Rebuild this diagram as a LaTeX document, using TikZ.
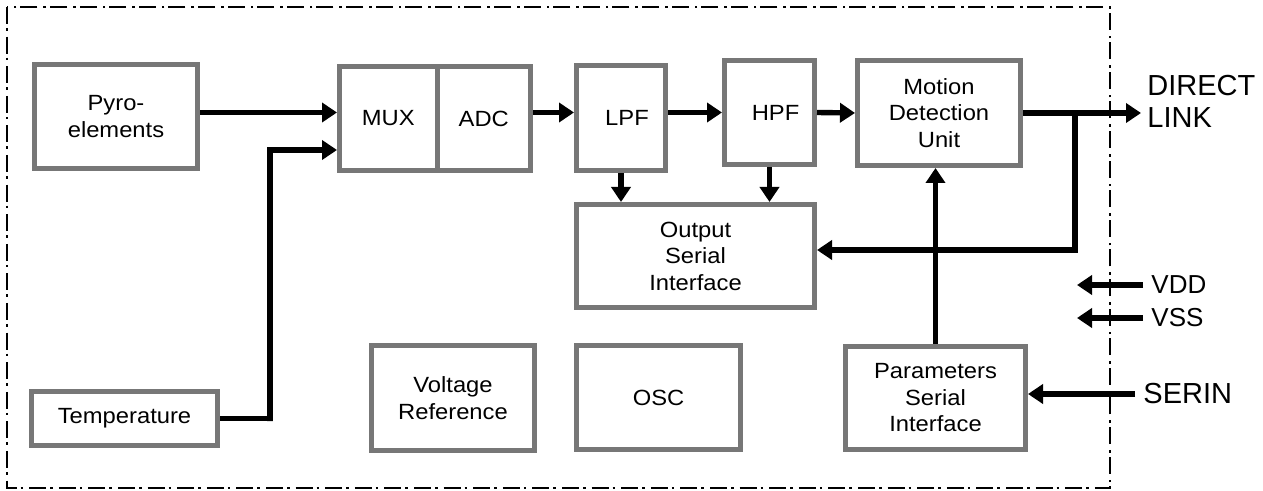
\documentclass[tikz,border=0pt]{standalone}
\usepackage{fontspec}
\setmainfont{Liberation Sans}
\newfontfamily\blkfont[FakeStretch=1.08]{Liberation Sans}
\usetikzlibrary{arrows.meta}
\definecolor{boxgray}{HTML}{777777}
\tikzset{
  blk/.style={draw=boxgray, line width=2.5pt, fill=white, inner sep=0pt,
    align=center, font=\blkfont\fontsize{11}{13.25}\selectfont},
  sig/.style={line width=2.7pt, -{Triangle[length=7.5pt,width=9.5pt]}},
  wire/.style={line width=2.7pt},
  pin/.style={anchor=west, inner sep=0pt, align=left},
  frame/.style={line width=1.3pt, dash pattern=on 8.5pt off 2pt on 1.3pt off 3pt}
}
\begin{document}
\begin{tikzpicture}[x=0.5pt, y=-0.5pt]
        \useasboundingbox (0,0) rectangle (1263,491);

        % Draw the chip outline
        \draw[frame] (7,7) rectangle (1110,488);

        % Draw the blocks
        \node[blk, minimum width=81.5pt, minimum height=52pt] (pyro) at (116,116.5) {Pyro-\\elements};
        \node[blk, minimum width=48.75pt, minimum height=52pt] (mux) at (388.25,118.5) {MUX};
        \node[blk, minimum width=46.75pt, minimum height=52pt] (adc) at (483.75,118.5) {ADC};
        \node[blk, minimum width=44.5pt, minimum height=52.5pt, text depth=0pt] (lpf) at (621,118) {\hspace*{6pt}LPF};
        \node[blk, minimum width=45pt, minimum height=52pt] (hpf) at (769.5,112.5) {\hspace*{6pt}HPF};
        \node[blk, minimum width=81.5pt, minimum height=52.5pt] (motion) at (939,113) {Motion\\Detection\\Unit};
        \node[blk, minimum width=119pt, minimum height=51.5pt] (osi) at (695.5,256) {Output\\Serial\\Interface};
        \node[blk, minimum width=93pt, minimum height=27pt] (temp) at (124.5,418.5) {Temperature};
        \node[blk, minimum width=81.5pt, minimum height=52.5pt] (vref) at (453,398) {Voltage\\Reference};
        \node[blk, minimum width=82pt, minimum height=52pt] (osc) at (658.5,397.5) {OSC};
        \node[blk, minimum width=90pt, minimum height=51.5pt] (psi) at (935.5,398) {Parameters\\Serial\\Interface};

        % Draw the pin labels
        \node[pin, font=\fontsize{14.5}{16}\selectfont] (dlink) at (1147,101) {DIRECT\\LINK};
        \node[pin, font=\fontsize{13}{15}\selectfont] (vdd) at (1151,285) {VDD};
        \node[pin, font=\fontsize{13}{15}\selectfont] (vss) at (1151,318) {VSS};
        \node[pin, font=\fontsize{14.5}{16}\selectfont] (serin) at (1143,394) {SERIN};

        % Signal path
        \draw[sig] (pyro.east |- hpf.west) -- (mux.west |- hpf.west);
        \coordinate (tj) at (270,150);
        \draw[wire] (temp.east) -| ([yshift=-1.35pt]temp.east -| tj) -- (tj);
        \draw[sig] ([xshift=-1.35pt]tj) -- (tj -| mux.west);
        \draw[sig] (adc.east |- hpf.west) -- (lpf.west |- hpf.west);
        \draw[sig] (lpf.east |- hpf.west) -- (hpf.west);
        \draw[sig] (hpf.east) -- (motion.west);
        \draw[sig] (motion.east) -- ([xshift=-3pt]dlink.west |- motion.east);

        % Feedback to the output interface
        \coordinate (br) at (1075,250);
        \draw[wire] (br |- motion.east) -- (br);
        \draw[sig] ([xshift=1.35pt]br) -- (br -| osi.east);
        \draw[sig] (lpf.south) -- (lpf.south |- osi.north);
        \draw[sig] (hpf.south) -- (hpf.south |- osi.north);
        \draw[sig] (psi.north) -- (psi.north |- motion.south);

        % Supply and serial input pins
        \draw[sig] ([xshift=-4pt]vdd.west) -- ++(-33pt,0);
        \draw[sig] ([xshift=-4pt]vss.west) -- ++(-33pt,0);
        \draw[sig] ([xshift=-4pt]serin.west) -- (serin.west -| psi.east);
\end{tikzpicture}
\end{document}
